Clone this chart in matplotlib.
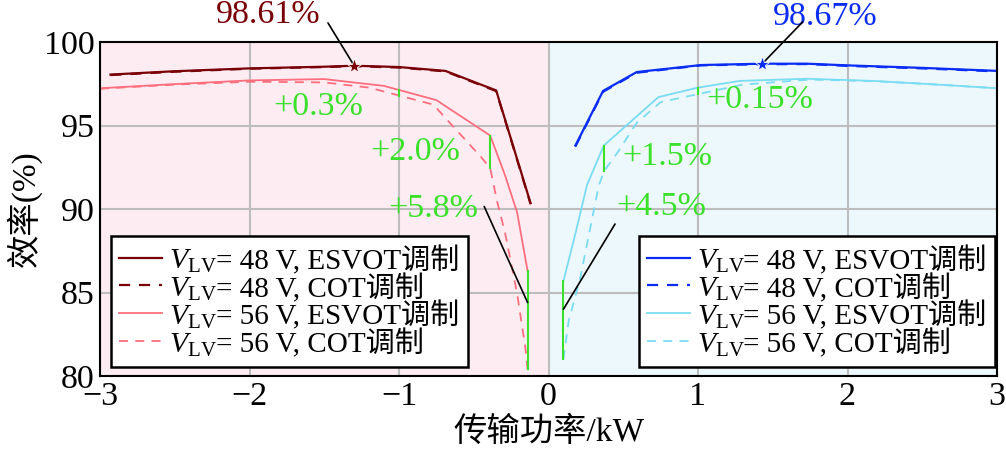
import numpy as np
import matplotlib
matplotlib.use("Agg")
import matplotlib.pyplot as plt
from matplotlib.lines import Line2D
from matplotlib.offsetbox import AnchoredOffsetbox, DrawingArea, HPacker, TextArea, VPacker

plt.rcParams['font.family'] = ['Liberation Serif', 'Noto Sans CJK SC']
plt.rcParams['mathtext.fontset'] = 'custom'
plt.rcParams['mathtext.rm'] = 'Liberation Serif'
plt.rcParams['mathtext.it'] = 'Liberation Serif:italic'
plt.rcParams['axes.unicode_minus'] = True

SERIF = 'Liberation Serif'
MIXED = ['Liberation Serif', 'Noto Sans CJK SC']

# -------- data --------
# negative power (left half)
esvot48_neg_x = [-2.93, -2.5, -2.0, -1.5, -1.3, -1.0, -0.69, -0.35, -0.12]
esvot48_neg_y = [98.05, 98.25, 98.42, 98.52, 98.58, 98.5, 98.27, 97.1, 90.35]
cot48_neg_x = [-2.93, -2.5, -2.0, -1.5, -1.3, -1.0, -0.69, -0.35, -0.12]
cot48_neg_y = [98.02, 98.22, 98.4, 98.5, 98.55, 98.47, 98.24, 97.06, 90.3]
esvot56_neg_x = [-3.0, -2.5, -2.0, -1.5, -1.1, -0.75, -0.39, -0.29, -0.21, -0.14]
esvot56_neg_y = [97.23, 97.48, 97.7, 97.78, 97.37, 96.52, 94.4, 92.0, 89.8, 86.3]
cot56_neg_x = [-3.0, -2.5, -2.0, -1.5, -1.2, -0.77, -0.64, -0.455, -0.39, -0.345, -0.29, -0.21, -0.155, -0.14]
cot56_neg_y = [97.2, 97.45, 97.62, 97.58, 97.27, 96.25, 94.96, 93.15, 92.45, 90.5, 88.55, 84.94, 81.7, 80.4]

# positive power (right half)
esvot48_pos_x = [0.18, 0.365, 0.59, 1.02, 1.43, 1.73, 2.0, 2.5, 3.0]
esvot48_pos_y = [93.8, 97.07, 98.2, 98.62, 98.7, 98.7, 98.6, 98.45, 98.27]
cot48_pos_x = [0.18, 0.365, 0.59, 1.02, 1.43, 1.73, 2.0, 2.5, 3.0]
cot48_pos_y = [93.75, 97.02, 98.16, 98.6, 98.67, 98.68, 98.57, 98.42, 98.24]
esvot56_pos_x = [0.098, 0.18, 0.258, 0.37, 0.735, 1.0, 1.28, 1.73, 2.17, 2.6, 3.0]
esvot56_pos_y = [85.62, 88.53, 91.45, 93.8, 96.7, 97.27, 97.67, 97.8, 97.67, 97.45, 97.23]
cot56_pos_x = [0.1, 0.135, 0.213, 0.29, 0.335, 0.37, 0.46, 0.59, 0.75, 1.0, 1.3, 1.75, 2.2, 2.6, 3.0]
cot56_pos_y = [81.0, 83.3, 85.9, 89.34, 91.35, 92.25, 93.36, 95.16, 96.4, 96.88, 97.45, 97.75, 97.65, 97.45, 97.23]

peak_neg = (-1.3, 98.58)
peak_pos = (1.43, 98.7)
peak_labels = ["98.61%", "98.67%"]

# where the ESVOT/COT gap is marked, and its text
gain_neg_x = [-1.0, -0.39, -0.14]
gain_neg_labels = ["+0.3%", "+2.0%", "+5.8%"]
gain_pos_x = [1.0, 0.37, 0.1]
gain_pos_labels = ["+0.15%", "+1.5%", "+4.5%"]

legend_v = ["48", "48", "56", "56"]
legend_mode = ["ESVOT", "COT", "ESVOT", "COT"]

# -------- styles --------
c_dred = "#7a0008"
c_lred = "#ff6e7e"
c_dblue = "#0a2cf5"
c_lblue = "#7adcf2"
c_green = "#3ae02a"
dash = (5, 4)

fig = plt.figure(figsize=(10.06, 4.51), dpi=100)
ax = fig.add_axes([100 / 1006, 1 - 376 / 451, 897 / 1006, 334 / 451])

ax.axvspan(-3, 0, color="#fdedf3", zorder=0)
ax.axvspan(0, 3, color="#edf8fc", zorder=0)
ax.grid(True, color="#bdbdbd", lw=1.5, zorder=1)
ax.set_axisbelow(True)

ax.plot(esvot48_neg_x, esvot48_neg_y, color=c_dred, lw=1.6, zorder=4)
ax.plot(cot48_neg_x, cot48_neg_y, color=c_dred, lw=1.6, dashes=dash, zorder=4)
ax.plot(esvot56_neg_x, esvot56_neg_y, color=c_lred, lw=1.3, zorder=3)
ax.plot(cot56_neg_x, cot56_neg_y, color=c_lred, lw=1.3, dashes=dash, zorder=3)

ax.plot(esvot48_pos_x, esvot48_pos_y, color=c_dblue, lw=1.6, zorder=4)
ax.plot(cot48_pos_x, cot48_pos_y, color=c_dblue, lw=1.6, dashes=dash, zorder=4)
ax.plot(esvot56_pos_x, esvot56_pos_y, color=c_lblue, lw=1.3, zorder=3)
ax.plot(cot56_pos_x, cot56_pos_y, color=c_lblue, lw=1.3, dashes=dash, zorder=3)

# peak markers
ax.plot(*peak_neg, marker="*", ms=11, color=c_dred, mec="white", mew=0.6, zorder=6)
ax.plot(*peak_pos, marker="*", ms=11, color=c_dblue, mec="white", mew=0.6, zorder=6)

# gap markers
for gx in gain_neg_x:
    top = np.interp(gx, esvot56_neg_x, esvot56_neg_y)
    bot = np.interp(gx, cot56_neg_x, cot56_neg_y)
    ax.plot([gx, gx], [bot, top], color=c_green, lw=1.5, zorder=5)
for gx in gain_pos_x:
    top = np.interp(gx, esvot56_pos_x, esvot56_pos_y)
    bot = np.interp(gx, cot56_pos_x, cot56_pos_y)
    ax.plot([gx, gx], [bot, top], color=c_green, lw=1.5, zorder=5)

# annotation texts
ax.text(-1.876, 101.62, peak_labels[0], color=c_dred, fontsize=24.5, family=SERIF,
        ha="center", va="center", clip_on=False)
ax.annotate("", xy=peak_neg, xytext=(-1.475, 101.14), annotation_clip=False,
            arrowprops=dict(arrowstyle="-", color="k", lw=1.2, shrinkA=0, shrinkB=2))
ax.text(1.85, 101.5, peak_labels[1], color=c_dblue, fontsize=24.5, family=SERIF,
        ha="center", va="center", clip_on=False)
ax.annotate("", xy=peak_pos, xytext=(1.70, 101.2), annotation_clip=False,
            arrowprops=dict(arrowstyle="-", color="k", lw=1.2, shrinkA=0, shrinkB=2))

gain_neg_pos = [(-1.542, 96.1), (-0.893, 93.41), (-0.773, 90.0)]
gain_pos_pos = [(1.415, 96.53), (0.793, 93.11), (0.753, 90.12)]
for (tx, ty), s in zip(gain_neg_pos, gain_neg_labels):
    ax.text(tx, ty, s, color=c_green, fontsize=24.5, family=SERIF, ha="center", va="center", zorder=7)
for (tx, ty), s in zip(gain_pos_pos, gain_pos_labels):
    ax.text(tx, ty, s, color=c_green, fontsize=24.5, family=SERIF, ha="center", va="center", zorder=7)

ax.annotate("", xy=(-0.14, 84.4), xytext=(-0.43, 90.15),
            arrowprops=dict(arrowstyle="-", color="k", lw=1.2, shrinkA=0, shrinkB=0), zorder=7)
ax.annotate("", xy=(0.1, 84.0), xytext=(0.445, 89.1),
            arrowprops=dict(arrowstyle="-", color="k", lw=1.2, shrinkA=0, shrinkB=0), zorder=7)


def make_legend(colors, loc, anchor):
    rows = []
    for col, v, mode in zip(colors, legend_v, legend_mode):
        lw = 1.6 if col in (c_dred, c_dblue) else 1.3
        da = DrawingArea(31, 18, 0, 0)
        ln = Line2D([0, 31], [8.4, 8.4], color=col, lw=lw)
        if mode == "COT":
            ln.set_dashes(dash)
        da.add_artist(ln)
        t1 = TextArea(r"$V_{\mathrm{LV}}$", textprops=dict(fontsize=21.5))
        t2 = TextArea(f"= {v} V, {mode}调制", textprops=dict(fontsize=21, family=MIXED))
        lab = HPacker(children=[t1, t2], sep=-1, pad=0, align="baseline")
        rows.append(HPacker(children=[da, lab], sep=5, pad=0, align="baseline"))
    box = VPacker(children=rows, sep=-2.5, pad=0, align="left")
    anch = AnchoredOffsetbox(loc=loc, child=box, pad=0.6, borderpad=0, frameon=True,
                             bbox_to_anchor=anchor, bbox_transform=ax.transAxes)
    anch.patch.set_edgecolor("k")
    anch.patch.set_linewidth(1.8)
    anch.patch.set_boxstyle("square", pad=0)
    anch.zorder = 8
    ax.add_artist(anch)


make_legend([c_dred, c_dred, c_lred, c_lred], "lower left", (0.0123, 0.027))
make_legend([c_dblue, c_dblue, c_lblue, c_lblue], "lower right", (0.998, 0.027))

ax.set_xlim(-3, 3)
ax.set_ylim(80, 100)
ax.set_xticks([-3, -2, -1, 0, 1, 2, 3])
ax.set_yticks([80, 85, 90, 95, 100])
ax.tick_params(length=0, labelsize=24.5, pad=4)
for lab in ax.get_xticklabels() + ax.get_yticklabels():
    lab.set_family(SERIF)
for sp in ax.spines.values():
    sp.set_linewidth(1.5)
    sp.set_zorder(9)

ax.set_xlabel("传输功率/kW", fontsize=24, family=MIXED, labelpad=3)
ax.set_ylabel("效率(%)", fontsize=24, family=MIXED, labelpad=1)

fig.savefig("out.png", dpi=100)
